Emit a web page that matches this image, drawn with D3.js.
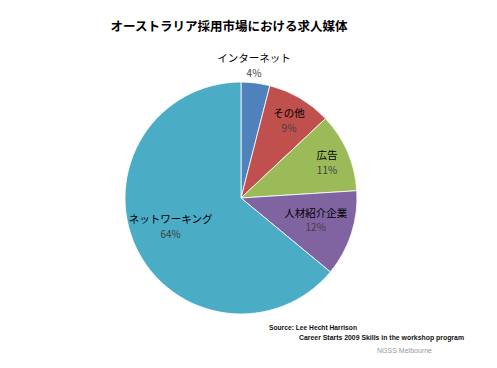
<!DOCTYPE html>
<html><head><meta charset="utf-8">
<script src="https://cdn.jsdelivr.net/npm/d3@7"></script>
<style>body{margin:0;background:#fff}svg{display:block}</style>
</head><body>
<svg id="c" width="497" height="368"></svg>
<script>
const categories = ["インターネット","その他","広告","人材紹介企業","ネットワーキング"];
const values = [4, 9, 11, 12, 64];
const colors = ["#4F81BD","#C0504D","#9BBB59","#8064A2","#4BACC6"];
const title = "オーストラリア採用市場における求人媒体";
const sourceLines = ["Source: Lee Hecht Harrison","Career Starts 2009 Skills in the workshop program","NGSS Melbourne"];

// label placement (radius, angle shift in degrees)
const labelLayout = [[133,-1.6],[91,1.2],[93,1],[78,-1.3],[76,3]];

const svg = d3.select("#c");
const cx = 241, cy = 198, R = 116;
const font = "'Noto Sans CJK JP','Noto Sans',sans-serif";

svg.append("text").attr("x",229).attr("y",31).attr("text-anchor","middle")
  .attr("font-family",font).attr("font-weight","bold").attr("font-size",12.5)
  .attr("fill","#000").text(title);

const pie = d3.pie().sort(null).value(d=>d)(values);
const arc = d3.arc().innerRadius(0).outerRadius(R);
const g = svg.append("g").attr("transform",`translate(${cx},${cy})`);
g.selectAll("path").data(pie).join("path")
  .attr("d",arc).attr("fill",(d,i)=>colors[i])
  .attr("stroke","#fff").attr("stroke-width",0.8);

const lab = g.selectAll("g.l").data(pie).join("g").attr("class","l")
  .attr("transform",(d,i)=>{
    const a = (d.startAngle+d.endAngle)/2 + labelLayout[i][1]*Math.PI/180;
    const r = labelLayout[i][0];
    return `translate(${r*Math.sin(a)},${-r*Math.cos(a)})`;
  });
lab.append("text").attr("y",-3.5).attr("text-anchor","middle")
  .attr("font-family",font).attr("font-size",10.5).attr("fill","#000")
  .text((d,i)=>categories[i]);
lab.append("text").attr("y",11).attr("text-anchor","middle")
  .attr("font-family",font).attr("font-size",10).attr("fill","#404040")
  .text(d=>d.value+"%");

const sf = "'Liberation Sans',Arial,sans-serif";
svg.append("text").attr("x",269).attr("y",330).attr("font-family",sf)
  .attr("font-size",7).attr("font-weight","bold").attr("fill","#111")
  .attr("textLength",88).attr("lengthAdjust","spacingAndGlyphs").text(sourceLines[0]);
svg.append("text").attr("x",299).attr("y",340).attr("font-family",sf)
  .attr("font-size",7).attr("font-weight","bold").attr("fill","#111")
  .attr("textLength",165).attr("lengthAdjust","spacingAndGlyphs").text(sourceLines[1]);
svg.append("text").attr("x",377).attr("y",353).attr("font-family",sf)
  .attr("font-size",7.5).attr("fill","#999")
  .attr("textLength",55).attr("lengthAdjust","spacingAndGlyphs").text(sourceLines[2]);
</script>
</body></html>
